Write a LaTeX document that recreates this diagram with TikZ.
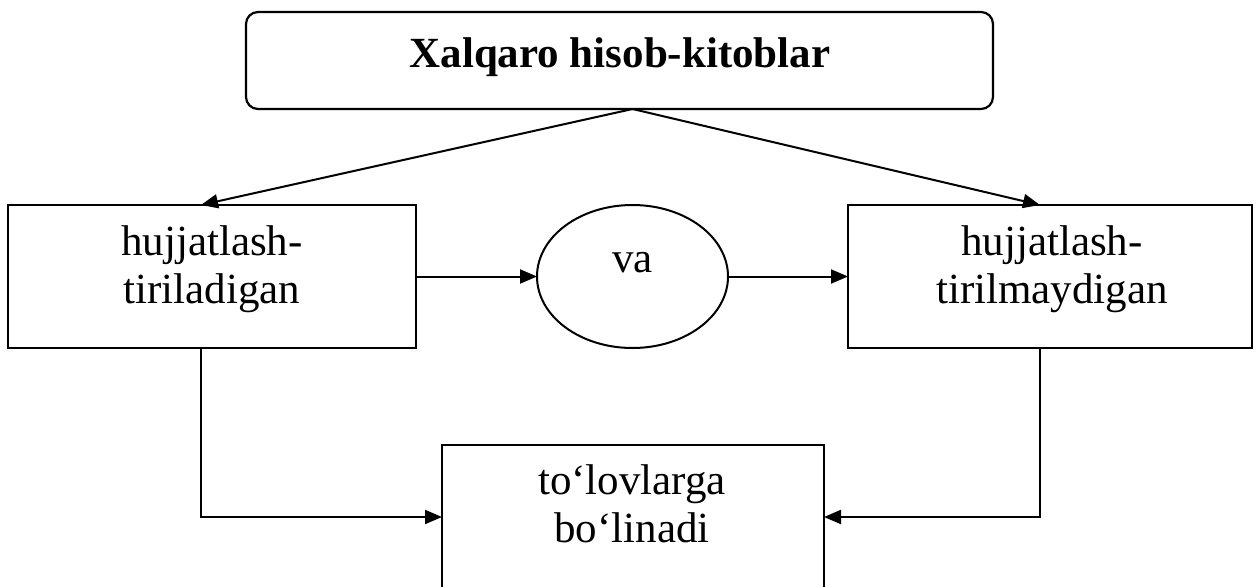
\documentclass[tikz,border=0pt]{standalone}
\usepackage{fontspec}
\setmainfont{Liberation Serif}
\usetikzlibrary{arrows.meta,shapes.geometric}
\begin{document}
\begin{tikzpicture}[x=1pt,y=-1pt,
  box/.style={draw, line width=2.2pt, inner sep=0pt, outer sep=0pt},
  txt/.style={font=\fontsize{43}{48}\selectfont, inner sep=0pt, anchor=base},
  arr/.style={-{Triangle[length=17pt,width=14pt]}, line width=2pt}]
\useasboundingbox (0,0) rectangle (1257,586);
\clip (0,0) rectangle (1257,586);
% boxes
\node[box, rounded corners=12pt, minimum width=747pt, minimum height=97pt] (top) at (619.5,60.5) {};
\node[box, minimum width=408pt, minimum height=143pt] (left) at (212,276.5) {};
\node[box, ellipse, line width=2pt, minimum width=191pt, minimum height=143pt] (mid) at (632.5,276.5) {};
\node[box, minimum width=404pt, minimum height=143pt] (right) at (1050,276.5) {};
\node[box, minimum width=382pt, minimum height=220pt] (bot) at (633,555) {};
% texts
\node[txt, font=\fontsize{43}{48}\selectfont\bfseries] (toptext) at (620,67) {Xalqaro hisob-kitoblar};
\node[txt] (lt1) at (212,255) {hujjatlash-};
\node[txt] (lt2) at (212,303) {tiriladigan};
\node[txt] (vat) at (632.5,272) {va};
\node[txt] (rt1) at (1052,255) {hujjatlash-};
\node[txt] (rt2) at (1052,303) {tirilmaydigan};
\node[txt] (bt1) at (632,494) {to‘lovlarga};
\node[txt] (bt2) at (632,542) {bo‘linadi};
% helper coordinates
\coordinate (lx) at (201,0);
\coordinate (rx) at (1040,0);
\coordinate (jy) at (0,517);
% connectors
\draw[arr] (top.south -| mid) -- (left.north -| lx);
\draw[arr] (top.south -| mid) -- (right.north -| rx);
\draw[arr] (left) -- (mid);
\draw[arr] (mid) -- (right);
\draw[arr] (left.south -| lx) |- (bot.west |- jy);
\draw[arr] (right.south -| rx) |- (bot.east |- jy);
\end{tikzpicture}
\end{document}
